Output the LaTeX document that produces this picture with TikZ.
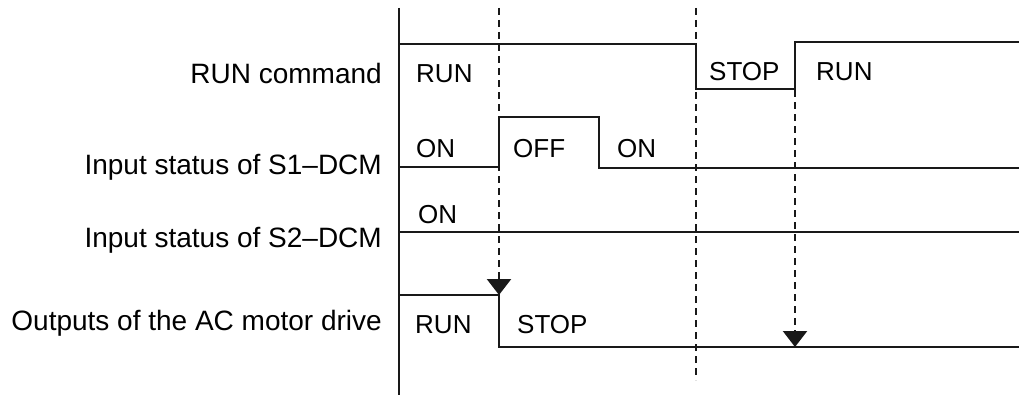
\documentclass[tikz,border=0pt]{standalone}
\usepackage{fontspec}
\setmainfont{Liberation Sans}
\usetikzlibrary{arrows.meta}
\begin{document}
\begin{tikzpicture}[x=1pt,y=-1pt,
  sig/.style={line width=2.9pt,line join=miter,color=black!90},
  axisline/.style={line width=2.9pt,color=black!90},
  dashline/.style={line width=2.3pt,dash pattern=on 7pt off 5pt,color=black!90},
  arr/.style={-{Triangle[width=24pt,length=16pt]}},
  leftlab/.style={anchor=base east,inner sep=0pt,font=\fontsize{28}{30}\selectfont},
  siglab/.style={anchor=base west,inner sep=0pt,font=\fontsize{26}{28}\selectfont}]
\useasboundingbox (0,0) rectangle (1019,396);
% axis
\coordinate (axTop) at (399,8);
\coordinate (axBot) at (399,395);
\draw[axisline] (axTop) -- (axBot);
% dashed lines
\coordinate (d1top) at (499,8);
\coordinate (d1end) at (499,295);
\coordinate (d2top) at (696,8);
\coordinate (d2end) at (696,380);
\coordinate (d3top) at (795,90);
\coordinate (d3end) at (795,347);
\draw[dashline] (d2top) -- (d2end);
\draw[dashline,arr] (d1top) -- (d1end);
\draw[dashline,arr] (d3top) -- (d3end);
% RUN command signal
\draw[sig] (399,44) -- (696,44) -- (696,89) -- (795,89) -- (795,42) -- (1019,42);
% S1
\draw[sig] (399,167) -- (499,167) -- (499,117) -- (599,117) -- (599,168) -- (1019,168);
% S2
\draw[sig] (399,232) -- (1019,232);
% output
\draw[sig] (399,295) -- (499,295) -- (499,347) -- (1019,347);
% left labels
\node[leftlab] (l1) at (382,83) {RUN command};
\node[leftlab] (l2) at (382,174) {Input status of S1\textendash DCM};
\node[leftlab] (l3) at (382,247) {Input status of S2\textendash DCM};
\node[leftlab] (l4) at (382,330) {Outputs of the AC motor drive};
% signal labels
\node[siglab] (s1) at (416,82) {RUN};
\node[siglab] (s2) at (709,80) {STOP};
\node[siglab] (s3) at (816,80) {RUN};
\node[siglab] (s4) at (416,157) {ON};
\node[siglab] (s5) at (513,157) {OFF};
\node[siglab] (s6) at (617,157) {ON};
\node[siglab] (s7) at (418,223) {ON};
\node[siglab] (s8) at (415,333) {RUN};
\node[siglab] (s9) at (517,333) {STOP};
\end{tikzpicture}
\end{document}
